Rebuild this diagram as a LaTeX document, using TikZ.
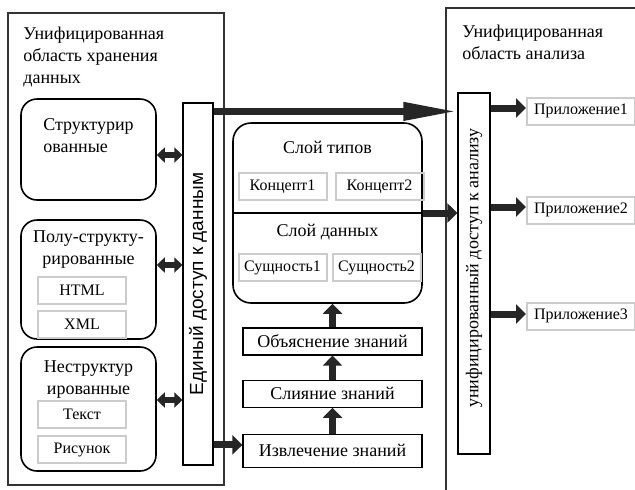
\documentclass[tikz,border=0pt]{standalone}
\usepackage{fontspec}
\setmainfont{Liberation Serif}
\newfontfamily\accessfont{Liberation Sans}
\usepackage{tikz}
\usetikzlibrary{arrows.meta,positioning,calc}

\begin{document}
\begin{tikzpicture}[
  x=0.5pt, y=-0.5pt,
  font=\fontsize{9}{11}\selectfont,
  area/.style={rectangle, draw=black!80, line width=0.9pt},
  group/.style={rectangle, draw, rounded corners=8pt, line width=0.8pt},
  item/.style={rectangle, draw=black!20, line width=1pt, minimum width=44pt, minimum height=13.5pt, inner sep=0pt, font=\fontsize{8}{10}\selectfont},
  app/.style={item, minimum width=54pt},
  stage/.style={rectangle, draw, line width=0.6pt, minimum width=89.5pt, minimum height=13.5pt, inner sep=0pt},
  bar/.style={rectangle, draw, line width=0.6pt, minimum width=15pt, minimum height=181pt},
  arrow/.style={-{Triangle[length=5pt, width=9.5pt]}, line width=3.5pt, black!85},
  biarrow/.style={{Triangle[length=4pt, width=7.5pt]}-{Triangle[length=4pt, width=7.5pt]}, line width=3pt, black!85},
  bigarrow/.style={-{Triangle[length=27pt, width=8.5pt]}, line width=3.5pt, black!85}
]
\useasboundingbox (0,0) rectangle (635,489);

\node[area, minimum width=108pt, minimum height=236pt] (store) at (116,249) {};
\node[anchor=north west, align=left, inner sep=0pt] (storetitle) at (23,27) {Унифицированная\\область хранения\\данных};
\node[area, minimum width=107pt, minimum height=246pt] (analysis) at (553,254) {};
\node[anchor=north west, align=left, inner sep=0pt] (analysistitle) at (462,25) {Унифицированная\\область анализа};

\node[group, minimum width=67.5pt, minimum height=50.5pt] (struct) at (88.5,149.5) {};
\node[align=left, inner sep=0pt, below=10pt of struct.north] (structlbl) {Структурир\\ованные};

\node[group, minimum width=67.5pt, minimum height=59.5pt] (semi) at (88.5,279.5) {};
\node[align=center, inner sep=0pt, below=5.5pt of semi.north] (semilbl) {Полу-структу-\\рированные};
\node[item] (html) at (82,290) {HTML};
\node[item, below=2.5pt of html] (xml) {XML};

\node[group, minimum width=67.5pt, minimum height=62pt] (unstruct) at (88.5,409) {};
\node[align=center, inner sep=0pt, below=7pt of unstruct.north] (unstructlbl) {Неструктур\\ированные};
\node[item] (text) at (82,414.5) {Текст};
\node[item, below=3pt of text] (picture) {Рисунок};

\node[bar] (dbar) at (198,284) {};
\node[rotate=90, font=\accessfont\fontsize{9.5}{11}\selectfont] (dbarlbl) at (dbar) {Единый доступ к данным};
\node[bar, minimum width=16pt, minimum height=180.5pt] (abar) at (474,273.5) {};
\node[rotate=90] (abarlbl) at (474,268) {унифицированный доступ к анализу};

\node[group, rounded corners=9pt, minimum width=94.5pt, minimum height=90pt] (layers) at (327.5,213) {};
\draw[line width=0.7pt] (layers.west) -- (layers.east);
\node[inner sep=0pt, below=9.5pt of layers.north] (typeslbl) {Слой типов};
\node[item] (concept1) at (282.5,186.5) {Концепт1};
\node[item, right=3.5pt of concept1] (concept2) {Концепт2};
\node[inner sep=0pt, below=5.5pt of layers.center] (datalbl) {Слой данных};
\node[item] (entity1) at (282.5,267.5) {Сущность1};
\node[item, right=2pt of entity1] (entity2) {Сущность2};

\node[stage] (explain) at (332.5,341.5) {Объяснение знаний};
\node[stage, below=12pt of explain] (merge) {Слияние знаний};
\node[stage, minimum height=16.5pt, below=13pt of merge] (extract) {Извлечение знаний};

\node[app] (app1) at (581,111) {Приложение1};
\node[app] (app2) at (581,210) {Приложение2};
\node[app] (app3) at (581,316) {Приложение3};

\draw[biarrow] ([yshift=-2.75pt]struct.east) -- ([yshift=-2.75pt]struct.east -| dbar.west);
\draw[biarrow] ([yshift=7.25pt]semi.east) -- ([yshift=7.25pt]semi.east -| dbar.west);
\draw[biarrow] ([yshift=4.5pt]unstruct.east) -- ([yshift=4.5pt]unstruct.east -| dbar.west);

\draw[bigarrow] ([yshift=-4.5pt]dbar.north east) -- ([yshift=-4.5pt]dbar.north east -| abar.west);
\draw[arrow] ([yshift=3pt]extract.west -| dbar.east) -- ([yshift=3pt]extract.west);
\draw[arrow] (extract) -- (merge);
\draw[arrow] (merge) -- (explain);
\draw[arrow] (explain) -- (explain.north |- layers.south);
\draw[arrow] (layers.east) -- (layers.east -| abar.west);

\draw[arrow] ([yshift=1.5pt]app1.west -| abar.east) -- ([yshift=1.5pt]app1.west);
\draw[arrow] ([yshift=1.5pt]app2.west -| abar.east) -- ([yshift=1.5pt]app2.west);
\draw[arrow] ([yshift=1pt]app3.west -| abar.east) -- ([yshift=1pt]app3.west);

\end{tikzpicture}
\end{document}
